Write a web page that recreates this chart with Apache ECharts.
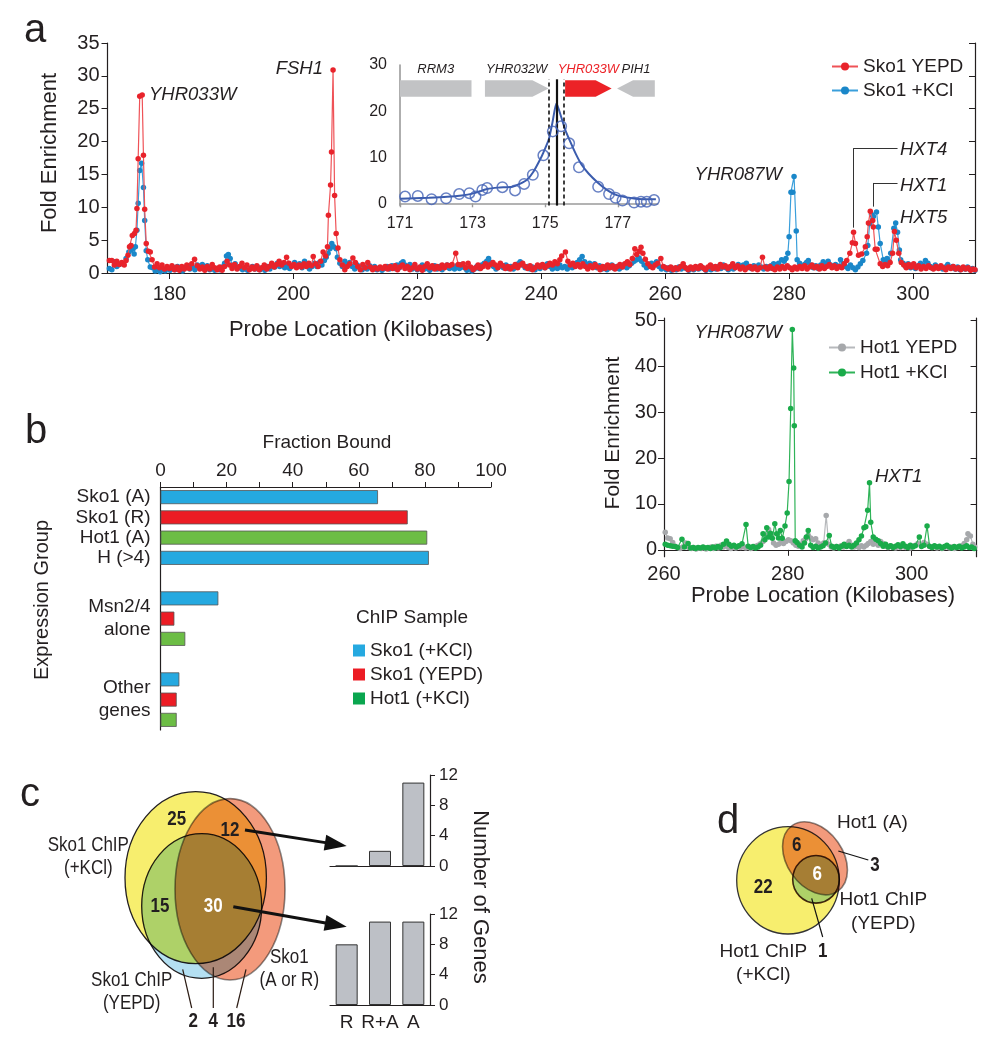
<!DOCTYPE html>
<html><head><meta charset="utf-8">
<script src="https://cdn.jsdelivr.net/npm/echarts@6/dist/echarts.min.js"></script>
<style>html,body{margin:0;padding:0;background:#fff}#c{width:1007px;height:1050px}</style>
</head><body><div id="c"></div>
<script>
const FONT = '"Liberation Sans", Arial, Helvetica, sans-serif';
const INK = '#231f20';

// ---------- panel a : Sko1 ChIP-chip (probe kb, fold enrichment) ----------
const sko1YepdPts = [
[170.3,1.9],[170.7,1.9],[171.1,1.2],[171.5,1.8],[171.9,1.3],[172.3,1.6],[172.7,1.2],[173.0,1.9],[173.3,2.7],[173.55,4.0],[173.8,4.2],[174.0,5.7],[174.35,6.0],[174.6,6.5],[174.75,9.8],[174.95,17.4],[175.2,26.9],[175.6,27.1],[175.8,17.9],[176.0,9.7],[176.25,4.5],[176.6,3.3],[176.9,3.2],[177.2,2.0],[177.6,0.9],[178.0,1.4],[178.4,0.8],[178.8,1.2],[179.2,0.6],[179.6,1.0],[180.0,0.7],[180.4,1.1],[180.8,0.5],[181.2,0.9],[181.6,0.4],[182.0,1.0],[182.4,0.6],[182.8,1.2],[183.2,0.7],[183.6,1.4],[184.05,2.1],[184.5,1.1],[184.9,0.6],[185.3,0.9],[185.7,0.4],[186.1,1.0],[186.5,0.6],[186.9,1.3],[187.3,0.8],[187.7,0.5],[188.1,0.9],[188.5,0.4],[188.9,1.0],[189.3,1.8],[189.7,1.2],[190.1,0.7],[190.5,1.3],[190.9,0.6],[191.3,1.0],[191.7,1.5],[192.1,0.8],[192.5,1.2],[192.9,0.5],[193.3,0.9],[193.7,0.6],[194.1,1.1],[194.5,0.5],[194.9,0.8],[195.3,1.2],[195.7,0.6],[196.1,1.0],[196.5,1.5],[196.9,0.9],[197.3,1.3],[197.7,1.8],[198.1,1.2],[198.5,1.6],[198.9,2.4],[199.3,1.5],[199.7,1.0],[200.1,1.3],[200.5,0.8],[200.9,1.2],[201.3,0.9],[201.7,1.4],[202.1,1.0],[202.5,1.5],[202.9,1.1],[203.2,2.5],[203.6,1.4],[204.0,1.0],[204.4,1.8],[204.8,3.2],[205.2,2.6],[205.5,4.0],[205.65,8.8],[206.0,13.4],[206.15,18.4],[206.4,30.9],[206.65,11.8],[206.9,6.0],[207.2,3.8],[207.5,2.0],[207.9,1.2],[208.3,0.5],[208.7,1.0],[209.1,1.4],[209.6,2.3],[210.0,1.6],[210.4,1.0],[210.8,0.5],[211.2,1.3],[211.6,0.8],[212.0,1.6],[212.4,0.9],[212.8,0.5],[213.2,0.8],[213.6,0.6],[214.0,0.9],[214.4,0.7],[214.8,1.0],
[215.2,0.6],[215.6,1.0],[216.0,0.7],[216.4,1.1],[216.8,0.5],[217.2,0.9],[217.6,1.2],[218.0,0.7],[218.4,1.0],[218.8,0.5],[219.2,0.8],[219.6,1.3],[220.0,0.6],[220.4,0.9],[220.8,0.4],[221.2,1.0],[221.6,1.4],[222.0,0.8],[222.4,1.1],[222.8,0.6],[223.2,1.0],[223.6,0.7],[224.0,1.2],[224.4,0.8],[224.8,1.2],[225.2,1.1],[225.6,1.3],[226.2,3.0],[226.6,1.3],[227.0,1.2],[227.4,1.4],[227.8,0.8],[228.2,1.5],[228.6,0.9],[229.0,0.5],[229.4,0.8],[229.8,1.2],[230.2,0.7],[230.6,1.0],[231.0,1.4],[231.4,0.9],[231.8,1.3],[232.2,1.6],[232.6,1.2],[233.0,0.8],[233.4,1.5],[233.8,1.1],[234.2,0.7],[234.6,1.0],[235.0,0.6],[235.4,0.9],[235.8,1.3],[236.2,0.8],[236.6,1.2],[237.0,1.5],[237.4,1.0],[237.8,0.7],[238.2,1.1],[238.6,0.5],[239.0,0.8],[239.4,1.2],[239.8,0.9],[240.2,1.3],[240.6,0.8],[241.0,1.1],[241.4,1.5],[241.8,1.2],[242.2,1.7],[242.6,1.4],[243.0,2.0],[243.3,2.6],[243.9,3.2],[244.3,1.8],[244.7,1.2],[245.1,1.5],[245.5,1.0],[245.9,1.3],[246.3,0.9],[246.7,1.4],[247.1,1.0],[247.5,0.6],[247.9,1.1],[248.3,0.8],[248.7,1.3],[249.1,0.9],[249.5,0.5],[249.9,1.0],[250.3,0.7],[250.7,1.2],[251.1,0.8],[251.5,1.1],[251.9,0.6],[252.3,1.0],[252.7,1.3],[253.1,0.9],[253.5,1.4],[253.9,1.7],[254.3,1.3],[254.7,2.2],[255.1,3.7],[255.4,2.8],[255.8,3.3],[256.1,3.9],[256.4,3.0],[256.8,2.1],[257.2,1.4],[257.6,1.0],[258.0,0.8],[258.4,1.2],[258.8,1.5],[259.3,2.2],[259.7,1.0],[260.1,0.8],[260.5,0.6],[260.9,0.9],[261.3,0.5],[261.7,0.8],[262.1,0.6],[262.5,1.0],[262.9,1.4],[263.3,0.8],[263.7,0.5],[264.1,0.9],[264.5,0.6],[264.9,1.0],[265.3,0.7],[265.7,1.1],[266.1,0.8],[266.5,0.5],[266.9,0.9],[267.3,1.2],[267.7,0.7],[268.1,1.0],[268.5,0.6],[268.9,1.3],[269.3,0.9],[269.7,1.1],[270.1,0.7],[270.5,1.0],[270.9,1.4],[271.3,0.8],[271.7,1.1],[272.1,0.6],[272.5,0.9],[272.9,0.5],[273.3,0.8],[273.7,1.0],[274.1,0.6],[274.5,0.9],[274.9,0.5],[275.3,0.8],[275.7,2.4],[276.1,0.9],[276.5,0.6],[276.9,1.0],[277.3,0.7],[277.7,0.5],[278.1,0.9],[278.5,0.6],[278.9,1.0],[279.3,0.7],[279.7,1.1],[280.1,0.8],[280.5,0.5],[280.9,0.9],[281.3,0.6],[281.7,1.0],[282.1,0.7],[282.5,1.1],[282.9,0.6],[283.3,0.9],[283.7,1.2],[284.1,0.8],[284.5,1.0],[284.9,0.6],[285.3,1.1],[285.7,0.7],[286.1,1.0],[286.5,1.3],[286.9,0.8],[287.3,1.1],[287.7,0.7],[288.1,1.0],[288.5,0.8],[288.9,1.4],[289.3,1.9],[289.8,3.0],[290.2,4.6],[290.4,6.2],[290.7,4.5],[291.2,2.7],[291.7,2.9],[292.3,4.0],[292.6,5.5],[292.8,7.6],[293.1,9.4],[293.5,8.0],[293.6,7.0],[293.9,3.6],[294.2,3.6],[294.7,1.4],[295.1,1.0],[295.5,1.3],[295.9,1.1],[296.3,1.6],[296.7,3.0],[297.0,6.3],[297.3,5.0],[297.7,3.0],[298.1,1.6],[298.5,1.2],[298.9,0.8],[299.3,1.3],[299.7,0.9],[300.1,1.4],[300.5,0.8],[300.9,1.1],[301.3,0.6],[301.7,1.0],[302.1,0.7],[302.5,1.1],[302.9,0.8],[303.3,0.6],[303.7,1.0],[304.1,0.7],[304.5,1.1],[304.9,0.8],[305.3,0.5],[305.7,0.9],[306.1,0.7],[306.5,1.0],[306.9,0.6],[307.3,0.8],[307.7,0.5],[308.1,0.9],[308.5,0.6],[308.9,0.8],[309.3,0.4],[309.7,0.6],[310.0,0.5]
];
const sko1KclPts = [
[170.3,0.7],[170.7,0.5],[171.1,1.7],[171.5,1.0],[171.9,1.3],[172.5,1.4],[173.0,2.2],[173.45,3.2],[173.8,3.5],[174.1,3.7],[174.3,2.9],[174.5,4.0],[174.75,6.5],[174.95,10.6],[175.2,15.6],[175.5,16.7],[175.8,13.0],[176.0,8.0],[176.25,3.4],[176.5,2.0],[176.9,0.9],[177.3,0.8],[177.7,0.3],[178.1,0.5],[178.5,0.2],[178.9,0.6],[179.3,0.3],[179.7,0.8],[180.1,0.4],[180.5,0.9],[180.9,0.5],[181.3,1.0],[181.7,0.6],[182.1,0.3],[182.5,0.8],[182.9,1.1],[183.3,0.6],[183.7,0.9],[184.1,0.5],[184.5,1.2],[184.9,0.8],[185.3,1.3],[185.7,0.7],[186.1,1.1],[186.5,0.5],[186.9,0.8],[187.3,0.4],[187.7,0.7],[188.1,0.5],[188.5,0.9],[188.9,1.5],[189.2,2.6],[189.5,2.8],[189.8,2.2],[190.2,1.0],[190.6,1.4],[191.0,0.7],[191.4,0.9],[191.8,0.5],[192.2,0.8],[192.6,0.4],[193.0,0.7],[193.4,1.0],[193.8,0.6],[194.2,0.9],[194.6,0.5],[195.0,0.8],[195.4,0.4],[195.8,1.0],[196.2,0.6],[196.6,1.2],[197.0,0.9],[197.4,1.5],[197.8,1.0],[198.2,1.4],[198.6,0.8],[199.0,1.2],[199.4,0.7],[199.8,1.1],[200.2,1.6],[200.6,1.0],[201.0,1.4],[201.4,0.8],[201.8,1.8],[202.2,1.1],[202.6,0.6],[203.0,1.0],[203.4,1.5],[203.8,1.0],[204.2,1.6],[204.6,1.2],[205.0,1.9],[205.3,2.4],[205.6,3.0],[205.9,3.7],[206.2,4.5],[206.5,4.0],[206.9,3.7],[207.1,2.4],[207.5,1.5],[207.9,1.0],[208.3,1.8],[208.7,1.2],[209.1,1.6],[209.5,1.0],[209.9,0.6],[210.3,1.2],[210.7,0.8],[211.1,0.5],[211.5,0.9],
[211.9,0.6],[212.3,1.1],[212.7,0.7],[213.1,1.0],[213.5,0.5],[213.9,0.8],[214.3,0.4],[214.7,0.7],[215.1,1.0],[215.5,0.6],[215.9,1.1],[216.3,0.7],[216.7,1.2],[217.1,0.8],[217.4,1.5],[217.7,1.7],[218.0,1.2],[218.4,0.8],[218.8,1.3],[219.2,0.6],[219.6,1.0],[220.0,0.5],[220.4,0.8],[220.8,1.2],[221.2,0.6],[221.6,0.9],[222.0,0.4],[222.4,0.7],[222.8,1.1],[223.2,0.6],[223.6,1.0],[224.0,0.5],[224.4,0.9],[224.8,1.2],[225.2,0.7],[225.6,1.0],[226.0,0.6],[226.4,1.1],[226.8,0.7],[227.2,1.3],[227.6,0.8],[228.0,0.4],[228.4,0.7],[228.8,0.3],[229.2,0.6],[229.6,1.0],[230.0,0.7],[230.4,1.2],[230.8,1.5],[231.2,1.8],[231.5,2.2],[231.9,1.6],[232.3,1.0],[232.7,0.6],[233.1,0.9],[233.5,1.3],[233.9,0.8],[234.3,1.2],[234.7,0.7],[235.1,1.0],[235.5,0.6],[235.9,1.1],[236.3,1.4],[236.6,1.7],[237.0,1.2],[237.4,0.8],[237.8,1.0],[238.2,0.6],[238.6,0.9],[239.0,0.5],[239.4,1.0],[239.8,0.7],[240.2,1.2],[240.6,0.8],[241.0,1.4],[241.4,1.0],[241.8,0.6],[242.2,1.1],[242.6,0.7],[243.0,1.2],[243.4,0.8],[243.8,1.0],[244.2,0.6],[244.6,1.1],[245.0,0.8],[245.4,1.3],[245.8,1.6],[246.2,2.0],[246.6,2.5],[247.0,1.7],[247.4,1.2],[247.8,1.5],[248.2,1.0],[248.6,1.4],[249.0,0.8],[249.4,1.1],[249.8,0.6],[250.2,0.9],[250.6,0.5],[251.0,0.8],[251.4,1.2],[251.8,0.7],[252.2,1.0],[252.6,0.6],[253.0,0.9],[253.4,1.3],[253.8,0.8],[254.2,1.1],[254.6,1.5],[255.0,1.8],[255.4,2.0],[255.8,2.3],[256.2,1.8],[256.6,1.2],[257.0,0.8],[257.4,1.1],[257.8,1.5],[258.2,1.2],[258.6,1.7],[259.0,1.0],[259.4,0.6],[259.8,0.9],[260.2,0.5],[260.6,0.8],[261.0,0.4],[261.4,0.7],[261.8,0.5],[262.2,0.9],[262.6,0.6],[263.0,1.0],[263.4,0.7],[263.8,0.4],[264.2,0.8],[264.6,0.5],[265.0,0.9],[265.4,0.6],[265.8,1.0],[266.2,0.7],[266.6,0.4],[267.0,0.8],[267.4,0.5],[267.8,0.9],[268.2,0.6],[268.6,1.0],[269.0,0.7],[269.4,1.2],[269.8,0.8],[270.2,0.5],[270.6,0.9],[271.0,0.6],[271.4,1.0],[271.8,1.3],[272.2,0.9],[272.6,1.2],[273.1,1.5],[273.5,1.0],[273.9,0.7],[274.3,1.1],[274.7,0.8],[275.1,1.2],[275.5,0.9],[275.9,0.6],[276.3,1.0],[276.7,0.7],[277.1,1.1],[277.5,1.4],[277.9,1.0],[278.3,1.5],[278.8,2.0],[279.2,1.8],[279.5,2.2],[279.8,3.0],[280.0,5.5],[280.3,12.3],[280.6,12.3],[280.8,14.7],[281.15,6.4],[281.3,2.0],[281.7,1.5],[282.1,1.0],[282.5,1.3],[282.8,1.6],[283.1,1.9],[283.5,1.2],[283.9,0.8],[284.3,1.1],[284.7,0.7],[285.1,1.2],[285.5,1.7],[285.9,1.4],[286.3,1.8],[286.7,1.2],[287.1,0.9],[287.5,1.3],[287.9,1.0],[288.3,2.0],[288.7,1.4],[289.1,1.0],[289.5,0.7],[289.9,1.2],[290.3,0.8],[290.7,0.5],[291.1,0.9],[291.5,1.4],[291.9,1.9],[292.5,3.0],[292.7,4.2],[293.0,7.5],[293.3,8.9],[293.6,8.6],[294.1,9.3],[294.4,7.0],[294.7,4.5],[295.2,2.0],[295.5,1.6],[295.8,2.2],[296.1,1.8],[296.4,3.0],[296.9,6.8],[297.2,7.6],[297.5,6.2],[297.8,3.5],[298.0,2.0],[298.4,1.5],[298.8,1.0],[299.2,1.4],[299.6,0.8],[300.0,1.2],[300.4,0.7],[300.8,1.1],[301.2,1.5],[301.6,1.2],[302.0,1.9],[302.4,1.5],[302.8,1.0],[303.2,0.7],[303.6,1.2],[304.0,0.8],[304.4,1.0],[304.8,0.6],[305.2,0.9],[305.6,1.3],[306.0,0.8],[306.4,1.0],[306.8,0.6],[307.2,0.9],[307.6,0.5],[308.0,0.8],[308.4,0.6],[308.8,0.9],[309.2,0.5],[309.6,0.7],[310.0,0.4]
];
const mainXTicks = [180,200,220,240,260,280,300];

// inset (YHR033W locus)
const insetProbes = [[171.14,1.45],[171.49,1.6],[171.87,0.9],[172.27,1.1],[172.63,2.0],[172.91,2.2],[173.08,1.45],[173.27,2.9],[173.4,3.3],[173.82,3.5],[174.17,2.8],[174.42,4.2],[174.66,6.2],[174.95,10.4],[175.21,15.6],[175.44,16.7],[175.66,13.0],[175.93,7.8],[176.46,3.6],[176.76,2.0],[176.94,1.2],[177.13,0.6],[177.45,0.15],[177.64,0.35],[177.8,0.35],[178.0,0.7]];
const insetFit = [[171.0,1.0],[171.4,1.1],[171.8,1.2],[172.3,1.4],[172.7,1.7],[173.0,2.1],[173.2,2.6],[173.4,3.1],[173.7,3.4],[174.1,3.6],[174.3,4.2],[174.5,5.1],[174.68,6.9],[174.86,9.5],[174.95,11.0],[175.1,13.9],[175.2,17.5],[175.31,21.7],[175.45,18.5],[175.55,16.0],[175.7,13.2],[175.85,10.6],[176.0,8.4],[176.2,6.4],[176.46,4.4],[176.7,2.9],[176.9,2.0],[177.1,1.5],[177.4,1.1],[177.7,0.9],[178.05,0.9]];
const insetXTicks = [171,173,175,177];
const insetYTicks = [0,10,20,30];
// gene: name, start kb, end kb, strand (1 fwd, -1 rev, 0 no head shown)
const geneNames = ['RRM3','YHR032W','YHR033W','PIH1'];
const geneStart = [171.0,173.34,175.55,176.98];
const geneEnd   = [172.97,175.09,176.83,178.02];
const geneStrand= [0,1,1,-1];
const peakCenter = 175.31;
const peakBounds = [175.1,175.51];

// Hot1 ChIP-chip
const hot1KclPts = [
[260.2,1.2],[260.6,1.0],[261.0,0.9],[261.4,0.8],[261.8,0.7],[262.2,0.5],[262.9,2.3],[263.3,0.6],[263.9,1.4],[264.3,0.4],[264.7,0.5],[265.1,0.3],[265.5,0.5],[265.9,0.4],[266.3,0.6],[266.7,0.4],[267.1,0.5],[267.5,0.3],[267.9,0.6],[268.3,0.4],[268.7,0.7],[269.1,0.5],[269.6,1.2],[270.1,1.9],[270.5,1.2],[270.9,0.8],[271.3,1.0],[271.7,0.6],[272.1,0.9],[272.6,1.3],[273.25,5.5],[273.6,0.8],[274.0,0.5],[274.4,0.7],[274.8,0.4],[275.2,0.6],[275.6,1.0],[276.0,3.5],[276.3,2.2],[276.6,4.8],[276.9,2.8],[277.2,3.6],[277.5,2.5],[277.9,5.7],[278.2,3.5],[278.5,2.6],[278.8,4.2],[279.1,2.5],[279.55,5.2],[279.9,8.0],[280.2,14.9],[280.47,30.8],[280.73,48],[280.95,39.6],[281.05,27.0],[281.2,2.0],[281.5,1.6],[281.9,1.0],[282.3,0.6],[282.7,1.5],[283.0,2.8],[283.3,4.2],[283.7,1.0],[284.1,0.5],[284.5,0.8],[284.9,0.4],[285.3,0.6],[285.7,0.9],[286.1,1.5],[286.7,3.1],[287.1,0.8],[287.5,0.5],[287.9,0.7],[288.3,0.4],[288.7,0.8],[289.1,1.2],[289.5,0.7],[289.9,1.0],[290.3,0.6],[290.7,1.0],[291.1,1.5],[291.5,2.2],[291.9,3.0],[292.3,4.8],[292.6,5.0],[292.9,8.6],[293.2,14.6],[293.4,6.0],[293.8,2.8],[294.2,2.3],[294.6,2.0],[295.0,1.4],[295.4,0.8],[295.8,1.2],[296.2,0.6],[296.6,0.9],[297.0,0.5],[297.4,0.8],[297.8,1.1],[298.2,0.7],[298.6,1.3],[299.0,0.8],[299.4,0.5],[299.8,1.0],[300.2,0.6],[300.6,0.9],[301.25,2.8],[301.6,0.7],[302.0,1.0],[302.5,5.2],[302.9,0.8],[303.3,0.5],[303.7,0.9],[304.1,0.6],[304.5,0.8],[304.9,0.4],[305.3,0.7],[305.7,1.0],[306.1,0.6],[306.5,0.4],[306.9,0.7],[307.3,0.5],[307.7,0.8],[308.1,0.4],[308.5,0.6],[308.9,0.9],[309.3,0.5],[309.7,0.6],[310.1,0.3]
];
const hot1YepdPts = [
[260.2,3.8],[260.6,2.6],[261.0,2.4],[261.4,1.6],[261.8,0.8],[262.2,0.5],[262.6,0.3],[263.0,0.6],[263.5,1.5],[264.0,0.5],[264.4,0.3],[264.8,0.5],[265.2,0.2],[265.6,0.4],[266.0,0.3],[266.4,0.5],[266.8,0.2],[267.2,0.4],[267.6,0.6],[268.0,0.3],[268.4,0.8],[268.8,0.4],[269.2,1.0],[269.6,0.6],[270.0,1.2],[270.4,0.5],[270.8,0.3],[271.2,0.6],[271.6,0.4],[272.0,0.7],[272.4,0.5],[272.8,0.8],[273.2,0.4],[273.6,0.6],[274.0,0.3],[274.4,0.5],[274.8,0.8],[275.2,1.0],[275.6,1.3],[276.0,1.8],[276.5,3.0],[276.9,4.4],[277.3,3.2],[277.7,1.5],[278.1,1.0],[278.5,1.2],[278.9,1.6],[279.3,1.4],[279.7,1.8],[280.1,2.2],[280.5,2.0],[280.9,1.5],[281.3,1.0],[281.7,0.8],[282.1,1.2],[282.5,2.0],[282.9,2.4],[283.3,3.2],[283.7,2.6],[284.1,2.2],[284.5,2.4],[284.9,1.5],[285.3,1.0],[285.8,1.5],[286.2,7.5],[286.6,1.2],[287.0,0.6],[287.4,0.4],[287.8,0.7],[288.2,0.5],[288.6,0.9],[289.0,0.6],[289.5,1.2],[289.9,1.8],[290.3,1.0],[290.7,0.6],[291.1,0.8],[291.5,0.5],[291.9,0.9],[292.3,0.6],[292.7,1.0],[293.0,1.4],[293.4,1.8],[293.8,1.2],[294.2,1.5],[294.6,1.0],[295.0,1.8],[295.4,1.4],[295.8,0.8],[296.2,0.5],[296.6,0.9],[297.0,0.6],[297.4,0.4],[297.8,0.7],[298.2,0.5],[298.6,0.8],[299.0,0.5],[299.4,0.7],[299.8,0.4],[300.2,0.8],[300.6,1.0],[301.0,1.4],[301.5,1.0],[302.0,1.6],[302.5,1.2],[302.9,0.7],[303.3,0.5],[303.7,0.8],[304.1,0.4],[304.5,0.6],[304.9,0.3],[305.3,0.5],[305.7,0.8],[306.1,0.4],[306.5,0.6],[306.9,0.3],[307.3,0.5],[307.7,0.7],[308.1,0.9],[308.5,1.4],[308.9,2.2],[309.1,3.5],[309.5,3.0],[309.9,1.2],[310.2,0.6]
];
const hot1XTicks = [260,280,300];
const hot1YTicks = [0,10,20,30,40,50];

// ---------- panel b : fraction bound ----------
const exprGroups = ['Sko1 (A)','Sko1 (R)','Hot1 (A)','H (>4)','','','Msn2/4\nalone','','','','Other\ngenes',''];
const boundSko1Kcl  = [65.8,null,null,81.2,null,17.5,null,null,null,5.7,null,null];
const boundSko1Yepd = [null,74.8,null,null,null,null,4.2,null,null,null,4.9,null];
const boundHot1Kcl  = [null,null,80.7,null,null,null,null,7.5,null,null,null,4.9];

// ---------- panel c : gene counts ----------
const regClasses = ['R','R+A','A'];
const genesOf12 = [0,2,11];
const genesOf30 = [8,11,11];
const vennC = {kclOnly:25, kclAR:12, kclYepd:15, all:30, yepdOnly:2, yepdAR:4, arOnly:16};
const vennD = {kclA:6, all:6, kclOnly:22, aOnly:3, kclYepd:1};

const C = {red:'#e8232b', redLine:'#ef5257', blue:'#1a87c9', blueLine:'#3a9fdb',
  green:'#1aab4a', gray:'#a6a8ab', barBlue:'#25a9e0', barRed:'#ec1c24', barGreen:'#6cbd45'};

function T(x, y, text, o) {
  o = o || {};
  return {type:'text', x:x, y:y, rotation:o.rot||0, scaleX:o.sx||1, silent:true, z:o.z||50,
    style:{text:text, x:0, y:0, fill:o.fill||INK, fontSize:o.size||19, fontFamily:FONT,
      fontWeight:o.weight||'normal', fontStyle:o.style||'normal',
      align:o.align||'center', verticalAlign:'middle', lineHeight:o.lh||undefined}};
}
function L(x1,y1,x2,y2,w,col) {
  return {type:'line', silent:true, z:40, shape:{x1:x1,y1:y1,x2:x2,y2:y2}, style:{stroke:col||INK, lineWidth:w||1.2}};
}
function arrow(x1,y1,x2,y2) {
  const dx=x2-x1, dy=y2-y1, len=Math.hypot(dx,dy), ux=dx/len, uy=dy/len, hl=22, hw=8;
  const bx=x2-ux*hl, by=y2-uy*hl;
  return [L(x1,y1,bx+ux*2,by+uy*2,3,'#111'),
    {type:'polygon', silent:true, z:41, shape:{points:[[x2,y2],[bx-uy*hw,by+ux*hw],[bx+uy*hw,by-ux*hw]]}, style:{fill:'#111'}}];
}
const axLine = {show:true, lineStyle:{color:INK, width:1.2}};
const lbl = (size, margin) => ({color:INK, fontSize:size, fontFamily:FONT, margin:margin});

const option = {
  backgroundColor:'#fff', animation:false,
  textStyle:{fontFamily:FONT},
  grid:[
    {left:107.5, top:43, width:867.5, height:230},
    {left:400, top:65, width:257.7, height:140.6},
    {left:664, top:318, width:312.6, height:238.7},
    {left:160.5, top:487, width:330.5, height:243},
    {left:330, top:775, width:100, height:91},
    {left:330, top:914, width:100, height:91}
  ],
  xAxis:[
    {gridIndex:0, type:'value', min:170, max:310, axisLine:axLine, splitLine:{show:false},
      axisTick:{show:true, length:6, customValues:mainXTicks, lineStyle:{color:INK}},
      axisLabel:Object.assign(lbl(20,11),{customValues:mainXTicks})},
    {gridIndex:0, type:'value', position:'top', min:170, max:310, axisLine:axLine, axisTick:{show:false}, axisLabel:{show:false}, splitLine:{show:false}},
    {gridIndex:1, type:'value', min:171, max:178.1, axisLine:{show:true, lineStyle:{color:'#9a9a9a', width:1.6}}, splitLine:{show:false},
      axisTick:{show:true, length:4, customValues:insetXTicks, lineStyle:{color:'#9a9a9a', width:1.4}},
      axisLabel:Object.assign(lbl(16,10),{customValues:insetXTicks})},
    {gridIndex:2, type:'value', min:260, max:310.5, axisLine:axLine, splitLine:{show:false},
      axisTick:{show:true, length:6, customValues:hot1XTicks, lineStyle:{color:INK}},
      axisLabel:Object.assign(lbl(20,8),{customValues:hot1XTicks})},
    {gridIndex:2, type:'value', position:'top', min:260, max:310.5, axisLine:axLine, axisTick:{show:false}, axisLabel:{show:false}, splitLine:{show:false}},
    {gridIndex:3, type:'value', position:'top', min:0, max:100, interval:10, axisLine:axLine, splitLine:{show:false},
      axisTick:{show:true, length:5, lineStyle:{color:INK}},
      axisLabel:Object.assign(lbl(19,7),{formatter:v => (v%20===0 ? String(v) : '')})},
    {gridIndex:4, type:'category', data:regClasses, axisLine:axLine, axisTick:{show:false}, axisLabel:{show:false}},
    {gridIndex:5, type:'category', data:regClasses, axisLine:axLine, axisTick:{show:false},
      axisLabel:Object.assign(lbl(19,8),{interval:0, hideOverlap:false})}
  ],
  yAxis:[
    {gridIndex:0, type:'value', min:0, max:35, interval:5, axisLine:axLine, splitLine:{show:false},
      axisTick:{show:true, length:6, lineStyle:{color:INK}}, axisLabel:lbl(20,8)},
    {gridIndex:0, type:'value', position:'right', min:0, max:35, interval:5, axisLine:axLine, splitLine:{show:false},
      axisTick:{show:true, inside:true, length:6, lineStyle:{color:INK}}, axisLabel:{show:false}},
    {gridIndex:1, type:'value', min:-0.5, max:30, axisLine:{show:true, lineStyle:{color:'#9a9a9a', width:1.6}}, splitLine:{show:false},
      axisTick:{show:false}, axisLabel:Object.assign(lbl(16,13),{customValues:insetYTicks})},
    {gridIndex:2, type:'value', min:-1.5, max:50.5, axisLine:axLine, splitLine:{show:false},
      axisTick:{show:true, length:6, customValues:hot1YTicks, lineStyle:{color:INK}},
      axisLabel:Object.assign(lbl(20,7),{customValues:hot1YTicks})},
    {gridIndex:2, type:'value', position:'right', min:-1.5, max:50.5, axisLine:axLine, splitLine:{show:false},
      axisTick:{show:true, inside:true, length:6, customValues:hot1YTicks, lineStyle:{color:INK}}, axisLabel:{show:false}},
    {gridIndex:3, type:'category', inverse:true, data:exprGroups, axisLine:axLine, axisTick:{show:false},
      axisLabel:Object.assign(lbl(19,10),{lineHeight:23, interval:0})},
    {gridIndex:4, type:'value', position:'right', min:0, max:12, interval:4, axisLine:axLine, splitLine:{show:false},
      axisTick:{show:true, length:5, lineStyle:{color:INK}}, axisLabel:lbl(17,9)},
    {gridIndex:5, type:'value', position:'right', min:0, max:12, interval:4, axisLine:axLine, splitLine:{show:false},
      axisTick:{show:true, length:5, lineStyle:{color:INK}}, axisLabel:lbl(17,9)}
  ],
  legend:[
    {data:['Sko1 YEPD','Sko1 +KCl'], orient:'vertical', left:826, top:52, itemWidth:26, itemHeight:10, itemGap:5,
      textStyle:{fontSize:19, color:INK, fontFamily:FONT}, selectedMode:false},
    {data:['Hot1 YEPD','Hot1 +KCl'], orient:'vertical', left:823, top:333, itemWidth:26, itemHeight:10, itemGap:6,
      textStyle:{fontSize:19, color:INK, fontFamily:FONT}, selectedMode:false},
    {data:[{name:'Sko1 (+KCl)'},{name:'Sko1 (YEPD)'},{name:'Hot1 (+KCl)', itemStyle:{color:'#0aa64f'}}],
      orient:'vertical', left:348, top:636, icon:'rect', itemWidth:12, itemHeight:12, itemGap:5,
      itemStyle:{borderWidth:0}, textStyle:{fontSize:19, color:INK, fontFamily:FONT}, selectedMode:false}
  ],
  series:[
    {name:'Sko1 +KCl', type:'line', xAxisIndex:0, yAxisIndex:0, data:sko1KclPts, symbol:'circle', symbolSize:5.5, showAllSymbol:true,
      itemStyle:{color:C.blue}, lineStyle:{color:C.blueLine, width:1.2}, emphasis:{disabled:true}, z:2},
    {name:'Sko1 YEPD', type:'line', xAxisIndex:0, yAxisIndex:0, data:sko1YepdPts, symbol:'circle', symbolSize:5.5, showAllSymbol:true,
      itemStyle:{color:C.red}, lineStyle:{color:C.redLine, width:1.2}, emphasis:{disabled:true}, z:3,
      markLine:{silent:true, symbol:'none', label:{show:false}, lineStyle:{color:'#333', width:1, type:'solid'},
        data:[[{coord:[290.4,6.9]},{coord:[290.4,19.0]}],[{coord:[290.4,19.0]},{coord:[297.5,19.0]}],
              [{coord:[293.55,10.1]},{coord:[293.55,13.7]}],[{coord:[293.55,13.7]},{coord:[297.5,13.7]}]]}},
    {name:'fit', type:'line', xAxisIndex:2, yAxisIndex:2, data:insetFit, showSymbol:false, smooth:0.2,
      lineStyle:{color:'#3b5cad', width:2}, emphasis:{disabled:true}, z:4,
      markLine:{silent:true, symbol:'none', label:{show:false},
        data:[[{coord:[peakCenter,-0.5], lineStyle:{type:'solid', width:2.2, color:'#111'}},{coord:[peakCenter,26.9]}],
              [{coord:[peakBounds[0],-0.5], lineStyle:{type:[4,3], width:1.6, color:'#111'}},{coord:[peakBounds[0],26.9]}],
              [{coord:[peakBounds[1],-0.5], lineStyle:{type:[4,3], width:1.6, color:'#111'}},{coord:[peakBounds[1],26.9]}]]}},
    {name:'probes', type:'scatter', xAxisIndex:2, yAxisIndex:2, data:insetProbes, symbol:'circle', symbolSize:10.5,
      itemStyle:{color:'rgba(255,255,255,0)', borderColor:'#4262b5', borderWidth:1.5}, emphasis:{disabled:true}, z:5},
    {name:'genes', type:'custom', xAxisIndex:2, yAxisIndex:2, z:6, clip:false,
      data:geneNames.map((n,i)=>[geneStart[i], geneEnd[i], geneStrand[i]]),
      encode:{x:[0,1]},
      renderItem:function(params, api){
        const i = params.dataIndex, s=api.value(0), e=api.value(1), d=api.value(2);
        const a=api.coord([s,26.7]), b=api.coord([e,23.1]);
        const x0=a[0], x1=b[0], y0=a[1], y1=b[1], ym=(y0+y1)/2, h=16;
        let pts;
        if (d>0) pts=[[x0,y0],[x1-h,y0],[x1,ym],[x1-h,y1],[x0,y1]];
        else if (d<0) pts=[[x0,ym],[x0+h,y0],[x1,y0],[x1,y1],[x0+h,y1]];
        else pts=[[x0,y0],[x1,y0],[x1,y1],[x0,y1]];
        const isTarget = geneNames[i]==='YHR033W';
        const lp = api.coord([(s+e)/2, 29.0]);
        return {type:'group', children:[
          {type:'polygon', shape:{points:pts}, style:{fill:isTarget?'#ec2227':'#c2c3c5'}},
          {type:'text', style:{text:geneNames[i], x:lp[0], y:lp[1], align:'center', verticalAlign:'middle',
            fontSize:13, fontStyle:'italic', fontFamily:FONT, fill:isTarget?'#ec2227':INK}}]};
      }},
    {name:'Hot1 YEPD', type:'line', xAxisIndex:3, yAxisIndex:3, data:hot1YepdPts, symbol:'circle', symbolSize:5.5, showAllSymbol:true,
      itemStyle:{color:C.gray}, lineStyle:{color:'#b7b9bc', width:1.2}, emphasis:{disabled:true}, z:2},
    {name:'Hot1 +KCl', type:'line', xAxisIndex:3, yAxisIndex:3, data:hot1KclPts, symbol:'circle', symbolSize:5.5, showAllSymbol:true,
      itemStyle:{color:C.green}, lineStyle:{color:'#2fb358', width:1.2}, emphasis:{disabled:true}, z:3},
    {name:'Sko1 (+KCl)', type:'bar', xAxisIndex:5, yAxisIndex:5, data:boundSko1Kcl, barWidth:14, barGap:'-100%',
      itemStyle:{color:C.barBlue, borderColor:'#555', borderWidth:0.8}, emphasis:{disabled:true}},
    {name:'Sko1 (YEPD)', type:'bar', xAxisIndex:5, yAxisIndex:5, data:boundSko1Yepd, barWidth:14, barGap:'-100%',
      itemStyle:{color:C.barRed, borderColor:'#555', borderWidth:0.8}, emphasis:{disabled:true}},
    {name:'Hot1 (+KCl)', type:'bar', xAxisIndex:5, yAxisIndex:5, data:boundHot1Kcl, barWidth:14, barGap:'-100%',
      itemStyle:{color:C.barGreen, borderColor:'#555', borderWidth:0.8}, emphasis:{disabled:true}},
    {name:'n12', type:'bar', xAxisIndex:6, yAxisIndex:6, data:genesOf12, barWidth:22,
      itemStyle:{color:'#bdc0c6', borderColor:'#333', borderWidth:1}, emphasis:{disabled:true}},
    {name:'n30', type:'bar', xAxisIndex:7, yAxisIndex:7, data:genesOf30, barWidth:22,
      itemStyle:{color:'#bdc0c6', borderColor:'#333', borderWidth:1}, emphasis:{disabled:true}}
  ],
  graphic:{elements:[]}
};

const G = option.graphic.elements;
// panel letters
G.push(T(35,31,'a',{size:40}), T(36,432,'b',{size:40}), T(30,795,'c',{size:40}), T(728,822,'d',{size:40}));
// panel a titles & annotations
G.push(T(50,153,'Fold Enrichment',{size:22, rot:Math.PI/2}));
G.push(T(361,330,'Probe Location (Kilobases)',{size:22}));
G.push(T(149,95,'YHR033W',{size:18.5, style:'italic', align:'left'}));
G.push(T(323,69,'FSH1',{size:18.5, style:'italic', align:'right'}));
G.push(T(782,175,'YHR087W',{size:18.5, style:'italic', align:'right'}));
G.push(T(900,150,'HXT4',{size:18.5, style:'italic', align:'left'}));
G.push(T(900,186,'HXT1',{size:18.5, style:'italic', align:'left'}));
G.push(T(900,218,'HXT5',{size:18.5, style:'italic', align:'left'}));
// Hot1 panel titles
G.push(T(613,433,'Fold Enrichment',{size:21, rot:Math.PI/2}));
G.push(T(823,596,'Probe Location (Kilobases)',{size:22}));
G.push(T(782,333,'YHR087W',{size:18.5, style:'italic', align:'right'}));
G.push(T(875,477,'HXT1',{size:18.5, style:'italic', align:'left'}));
// panel b
G.push(T(327,443,'Fraction Bound',{size:19}));
G.push(T(42,600,'Expression Group',{size:20, rot:Math.PI/2}));
G.push(T(412,618,'ChIP Sample',{size:19}));
// panel c venn
G.push({type:'ellipse', silent:true, z:1, shape:{cx:195.7, cy:877.7, rx:70.7, ry:86}, style:{fill:'#f7ee6e', stroke:INK, lineWidth:1.3}});
G.push({type:'ellipse', silent:true, z:2, shape:{cx:201.7, cy:906, rx:60, ry:72.3}, style:{fill:'#b4e0f2', stroke:INK, lineWidth:1.3, blend:'multiply'}});
G.push({type:'ellipse', silent:true, z:3, shape:{cx:230, cy:889.3, rx:55, ry:90.7}, style:{fill:'#f39a7c', stroke:'#8c8c8c', lineWidth:1.6, blend:'multiply'}});
const nb = {size:20, weight:'bold', sx:0.85};
G.push(T(176.7,819.3,String(vennC.kclOnly),nb), T(230,830,String(vennC.kclAR),nb), T(160,906,String(vennC.kclYepd),nb),
  T(213.3,906,String(vennC.all),Object.assign({fill:'#fff'},nb)),
  T(193.3,1021.7,String(vennC.yepdOnly),nb), T(213.3,1021.7,String(vennC.yepdAR),nb), T(236,1021.7,String(vennC.arOnly),nb));
G.push(L(182.7,969.3,191.7,1008,1.2,'#2a1a12'), L(213.3,967.3,213.3,1008,1.2,'#2a1a12'), L(246,969.3,236.7,1008,1.2,'#2a1a12'));
const tc = {size:20, sx:0.85};
G.push(T(88.3,845,'Sko1 ChIP',tc), T(88.3,868.3,'(+KCl)',tc));
G.push(T(131.7,980,'Sko1 ChIP',tc), T(131.7,1003.3,'(YEPD)',tc));
G.push(T(289.3,957.3,'Sko1',tc), T(289.3,980,'(A or R)',tc));
G.push(...arrow(245,830,346.7,846), ...arrow(233.3,906.7,346.7,926.7));
G.push(T(480,897,'Number of Genes',{size:22, rot:-Math.PI/2}));
// panel d venn
G.push({type:'ellipse', silent:true, z:1, shape:{cx:788, cy:880.3, rx:51.3, ry:53.7}, style:{fill:'#f7ee6e', stroke:'#333', lineWidth:1.3}});
G.push({type:'ellipse', silent:true, z:2, x:815, y:858.3, rotation:-0.96, shape:{cx:0, cy:0, rx:40, ry:28}, style:{fill:'#f39a7c', stroke:'#8c8c8c', lineWidth:1.6, blend:'multiply'}});
G.push({type:'ellipse', silent:true, z:3, shape:{cx:816, cy:879.3, rx:23.3, ry:23.8}, style:{fill:'#b4e0f2', stroke:'#4a2c1c', lineWidth:1.6, blend:'multiply'}});
G.push(T(796.7,845,String(vennD.kclA),nb), T(817.3,874.3,String(vennD.all),Object.assign({fill:'#fff'},nb)),
  T(763.3,887.3,String(vennD.kclOnly),nb), T(875,865,String(vennD.aOnly),nb), T(822.7,951.7,String(vennD.kclYepd),nb));
G.push(L(838.3,851,868.3,860,1.2,'#111'), L(811.7,898.3,822.7,937,1.2,'#111'));
const td = {size:19};
G.push(T(837,823,'Hot1 (A)',Object.assign({align:'left'},td)));
G.push(T(883.3,900,'Hot1 ChIP',td), T(883.3,923.3,'(YEPD)',td));
G.push(T(763.3,951.7,'Hot1 ChIP',td), T(763.3,975,'(+KCl)',td));

const chart = echarts.init(document.getElementById('c'), null, {renderer:'canvas'});
chart.setOption(option);
</script>
</body></html>
